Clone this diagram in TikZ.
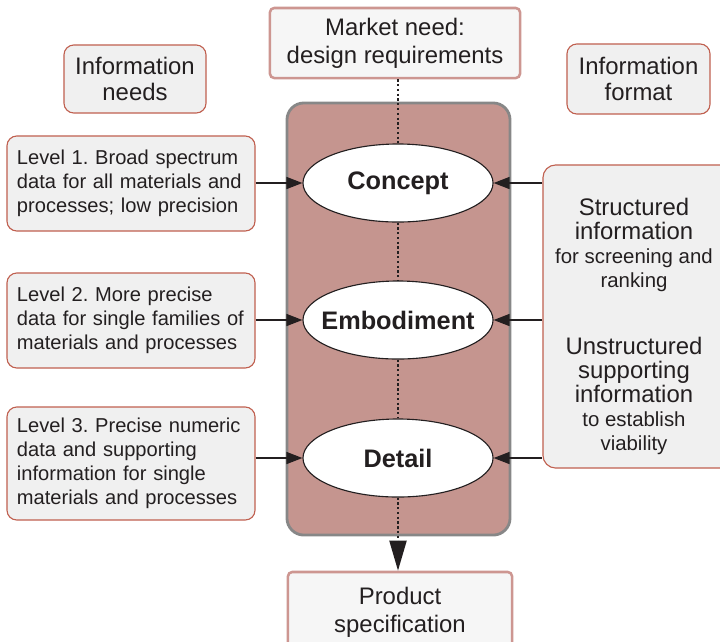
\documentclass[tikz,border=0pt]{standalone}
\usepackage{fontspec}
\setmainfont{Liberation Sans}
\usetikzlibrary{arrows.meta, positioning, shapes.geometric}
\definecolor{boxedge}{RGB}{192,96,80}
\definecolor{mktedge}{RGB}{205,150,145}
\definecolor{boxfill}{RGB}{240,240,240}
\definecolor{stagefill}{RGB}{197,149,143}
\definecolor{stageedge}{RGB}{135,135,135}
\definecolor{ink}{RGB}{35,31,32}
\frenchspacing

\begin{document}
\begin{tikzpicture}[
    x=0.025cm, y=-0.025cm,
    info/.style={rectangle, draw=boxedge, line width=0.8pt, fill=boxfill, rounded corners=7pt, align=center, text=ink, font=\fontsize{17}{18}\selectfont},
    level/.style={info, align=left, text width=5.7cm, inner xsep=0.25cm, minimum height=2.375cm, font=\fontsize{14.3}{17}\selectfont},
    io/.style={rectangle, draw=mktedge, line width=1.8pt, fill=boxfill!60!white, rounded corners=3pt, align=center, text=ink, font=\fontsize{17}{20}\selectfont},
    stage/.style={ellipse, draw=ink, fill=white, line width=0.8pt, inner sep=0pt, minimum width=4.75cm, minimum height=1.95cm, font=\fontsize{18}{20}\selectfont\bfseries, text=ink},
    feed/.style={-{Triangle[length=0.4cm, width=0.3cm]}, line width=1.1pt, draw=ink},
    flow/.style={dash pattern=on 1.6pt off 1.8pt, line width=1.8pt, draw=ink},
    fmt/.style={align=center, text=ink, font=\fontsize{17}{17}\selectfont}
]
\useasboundingbox (0,0) rectangle (720,641);

% design stages
\node[rectangle, draw=stageedge, line width=2pt, fill=stagefill, rounded corners=12pt, minimum width=5.575cm, minimum height=10.8cm] (frame) at (398.5,319) {};
\node[stage] (concept) at (398,183) {\makebox[0pt]{Concept}};
\node[stage] (embodiment) at (398,320) {\makebox[0pt]{Embodiment}};
\node[stage] (detail) at (398,458) {\makebox[0pt]{Detail}};

% input and output
\node[io, minimum width=6.25cm, minimum height=1.75cm] (mkt) at (395,43) {Market need:\\design requirements};
\node[io, minimum width=5.6cm, minimum height=2cm] (spec) at (400,612) {Product\\specification};

% headings
\node[info, minimum width=3.55cm, minimum height=1.7cm] (needs) at (135,79) {Information\\needs};
\node[info, minimum width=3.575cm, minimum height=1.75cm] (format) at (638.5,79) {Information\\format};

% information needs
\node[level] (lvl1) at (131,183.5) {Level 1. Broad spectrum\\data for all materials and\\processes; low precision};
\node[level] (lvl2) at (131,320.5) {Level 2. More precise\\data for single families of\\materials and processes};
\node[level, minimum height=2.825cm] (lvl3) at (131,463.5) {Level 3. Precise numeric\\data and supporting\\information for single\\materials and processes};

% information format
\node[info, rounded corners=9pt, minimum width=4.925cm, minimum height=7.575cm] (fmtbox) at (641.5,316.5) {};
\node[fmt] (structured) at (634,245) {Structured\\information\\{\fontsize{14.5}{17}\selectfont for screening and}\\{\fontsize{14.5}{17}\selectfont ranking}};
\node[fmt] (unstructured) at (634,396) {Unstructured\\supporting\\information\\{\fontsize{14.5}{17}\selectfont to establish}\\{\fontsize{14.5}{17}\selectfont viability}};

% Arrows
\draw[flow] (mkt.south -| concept) -- (concept.north);
\draw[flow] (concept.south) -- (embodiment.north);
\draw[flow] (embodiment.south) -- (detail.north);
\draw[flow, -{Triangle[length=0.75cm, width=0.42cm]}] (detail.south) -- (spec.north -| detail);

\foreach \lvl/\st in {lvl1/concept, lvl2/embodiment, lvl3/detail} {
    \draw[feed] (\lvl.east |- \st) -- (\st);
    \draw[feed] (fmtbox.west |- \st) -- (\st);
}

\end{tikzpicture}
\end{document}
